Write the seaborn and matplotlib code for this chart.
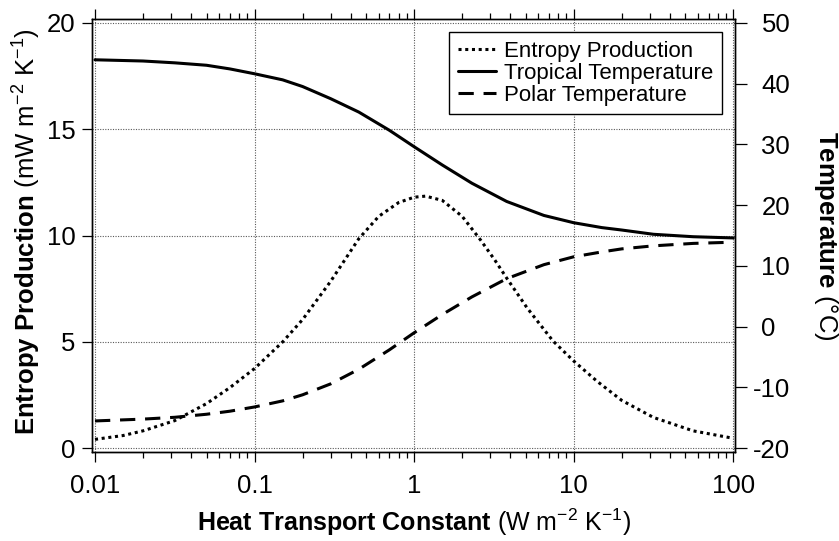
import numpy as np
import pandas as pd
import seaborn as sns
import matplotlib
matplotlib.use("Agg")
import matplotlib.pyplot as plt
from matplotlib.ticker import LogLocator, NullFormatter, FixedLocator, FixedFormatter
from matplotlib.transforms import ScaledTranslation

# ---------------- data ----------------
entropy_k = [0.01, 0.015, 0.02, 0.0316, 0.05, 0.07, 0.1, 0.15, 0.2, 0.3, 0.45, 0.6,
             0.8, 1.0, 1.18, 1.5, 2.0, 2.6, 3.2, 3.8, 5.1, 7.4, 10, 14, 20, 31.6, 56, 100]
entropy_prod = [0.42, 0.6, 0.82, 1.3, 2.1, 2.85, 3.75, 5.0, 6.05, 7.85, 9.85, 10.9,
                11.55, 11.8, 11.85, 11.65, 10.9, 9.8, 8.85, 8.0, 6.6, 5.05, 4.1, 3.15,
                2.25, 1.45, 0.82, 0.47]

tropical_k = [0.01, 0.02, 0.0316, 0.05, 0.07, 0.1, 0.15, 0.2, 0.3, 0.45, 0.7, 1.0,
              1.5, 2.3, 3.8, 6.5, 10, 15, 20, 31.6, 56, 100]
tropical_temp = [43.9, 43.7, 43.4, 43.0, 42.4, 41.6, 40.6, 39.5, 37.5, 35.3, 32.3, 29.6,
                 26.6, 23.6, 20.6, 18.3, 17.1, 16.3, 15.9, 15.2, 14.8, 14.6]

polar_k = [0.01, 0.02, 0.0316, 0.05, 0.07, 0.1, 0.15, 0.2, 0.3, 0.45, 0.7, 1.0,
           1.5, 2.3, 3.8, 6.5, 10, 15, 20, 31.6, 56, 100]
polar_temp = [-15.5, -15.2, -14.9, -14.4, -13.9, -13.2, -12.2, -11.2, -9.4, -7.0, -3.8, -1.0,
              2.0, 4.9, 7.9, 10.2, 11.5, 12.3, 12.8, 13.3, 13.7, 13.9]

series_names = ["Entropy Production", "Tropical Temperature", "Polar Temperature"]
x_ticks = [0.01, 0.1, 1, 10, 100]
x_tick_labels = ["0.01", "0.1", "1", "10", "100"]
left_ticks = [0, 5, 10, 15, 20]
left_tick_labels = ["0", "5", "10", "15", "20"]
right_ticks = [-20, -10, 0, 10, 20, 30, 40, 50]
right_tick_labels = ["-20", "-10", "0", "10", "20", "30", "40", "50"]

# ---------------- style ----------------
sns.set_style("ticks")
plt.rcParams.update({
    "font.family": ["Liberation Sans", "DejaVu Sans"],
    "mathtext.fontset": "custom",
    "mathtext.rm": "Liberation Sans",
    "mathtext.bf": "Liberation Sans:bold",
    "mathtext.it": "Liberation Sans:italic",
    "mathtext.sf": "Liberation Sans",
    "axes.unicode_minus": False,
    "text.color": "black",
    "axes.labelcolor": "black",
    "axes.edgecolor": "black",
    "xtick.color": "black",
    "ytick.color": "black",
    "axes.linewidth": 1.0,
})

fig = plt.figure(figsize=(8.39, 5.41), dpi=100)
fig.patch.set_facecolor("white")
ax = fig.add_axes([0.10965, 0.16506, 0.76698, 0.79982])
ax2 = ax.twinx()

df_e = pd.DataFrame({"K": entropy_k, "val": entropy_prod})
df_t = pd.DataFrame({"K": tropical_k, "val": tropical_temp})
df_p = pd.DataFrame({"K": polar_k, "val": polar_temp})

lw = 2.2
sns.lineplot(data=df_e, x="K", y="val", ax=ax, color="black", lw=lw,
             linestyle=(0, (1, 1.2)), label=series_names[0], estimator=None)
sns.lineplot(data=df_t, x="K", y="val", ax=ax2, color="black", lw=lw,
             linestyle="-", label=series_names[1], estimator=None)
sns.lineplot(data=df_p, x="K", y="val", ax=ax2, color="black", lw=lw,
             linestyle=(0, (5, 3.2)), label=series_names[2], estimator=None)

for a in (ax, ax2):
    if a.get_legend() is not None:
        a.get_legend().remove()

# ---------------- scales & limits ----------------
ax.set_xscale("log")
ax.set_xlim(0.009577, 103.2)
ax.set_ylim(-0.16, 20.174)
ax2.set_ylim(-20 + 3.5 * (-0.16), -20 + 3.5 * 20.174)

ax.xaxis.set_major_locator(FixedLocator(x_ticks))
ax.xaxis.set_major_formatter(FixedFormatter(x_tick_labels))
ax.xaxis.set_minor_locator(LogLocator(base=10, subs=np.arange(2, 10), numticks=20))
ax.xaxis.set_minor_formatter(NullFormatter())

ax.set_yticks(left_ticks)
ax.set_yticklabels(left_tick_labels)
ax2.set_yticks(right_ticks)
ax2.set_yticklabels(right_tick_labels)

# grid
ax.grid(True, which="major", axis="both", color="#5a5a5a", linestyle=(0, (1, 1.3)), lw=0.8)
ax.grid(False, which="minor")
ax2.grid(False)

# ticks
ax.tick_params(axis="x", which="major", direction="out", length=7.5, width=0.9,
               top=True, bottom=True, labelsize=18.5, pad=8.3)
ax.tick_params(axis="x", which="minor", direction="out", length=4.3, width=0.9,
               top=True, bottom=True)
ax.tick_params(axis="y", which="major", direction="out", length=7.5, width=0.9,
               left=True, right=False, labelsize=18.5, pad=4.2)
ax2.tick_params(axis="y", which="major", direction="out", length=8.3, width=0.9,
                right=True, left=False, labelsize=18.5, pad=10.4)
for lab in ax2.get_yticklabels():
    lab.set_horizontalalignment("left")

# hanging minus for right-hand labels
shift = ScaledTranslation(-6.2 / 72, 0, fig.dpi_scale_trans)
for tick, v in zip(ax2.yaxis.get_major_ticks(), right_ticks):
    if v < 0:
        tick.label2.set_transform(tick.label2.get_transform() + shift)

# ---------------- labels ----------------
ax.set_xlabel(r"$\mathbf{Heat\ Transport\ Constant}$ (W m$^{-2}$ K$^{-1}$)", fontsize=18)
ax.xaxis.set_label_coords(0.5, -0.127)
ax.set_ylabel(r"$\mathbf{Entropy\ Production}$ (mW m$^{-2}$ K$^{-1}$)", fontsize=18.5)
ax.yaxis.set_label_coords(-0.076, 0.508)
ax2.set_ylabel(r"$\mathbf{Temperature}$ (°C)", fontsize=18.5, rotation=270, va="bottom")
ax2.yaxis.set_label_coords(1.1189, 0.4985)

# ---------------- legend ----------------
h1, l1 = ax.get_legend_handles_labels()
h2, l2 = ax2.get_legend_handles_labels()
leg = ax2.legend(h1 + h2, l1 + l2, loc="upper right", fontsize=16, frameon=True,
                 fancybox=False, shadow=False, framealpha=1, edgecolor="black",
                 borderpad=0.38, labelspacing=0.05, handlelength=1.7,
                 handletextpad=0.4, borderaxespad=0.6)
leg.get_frame().set_linewidth(1.0)

for sp in list(ax.spines.values()) + list(ax2.spines.values()):
    sp.set_color("black")
    sp.set_linewidth(1.0)

fig.savefig("out.png", dpi=100, facecolor="white")
